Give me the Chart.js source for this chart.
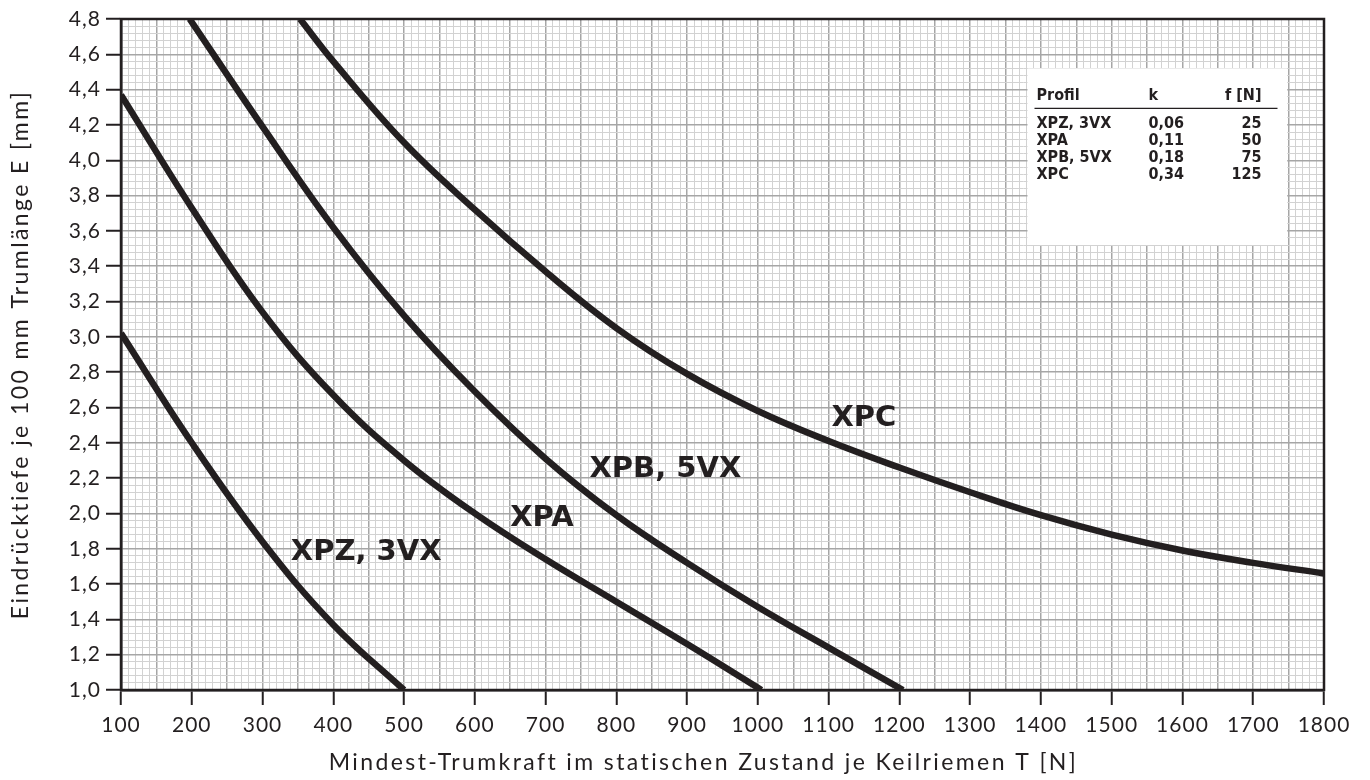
<!DOCTYPE html>
<html>
<head>
<meta charset="utf-8">
<script src="https://cdn.jsdelivr.net/npm/chart.js@4.4.1/dist/chart.umd.min.js"></script>
<style>
  html, body { margin: 0; padding: 0; background: #fff; }
  #wrap { width: 1370px; height: 780px; }
</style>
</head>
<body>
<div id="wrap"><canvas id="myChart"></canvas></div>
<script>
// Mindest-Trumkraft T [N] -> Eindrücktiefe E [mm]
const xpzT = [100, 200, 300, 400, 500];
const xpzE = [3.02, 2.40, 1.84, 1.37, 1.00];

const xpaT = [100, 200, 300, 400, 500, 600, 700, 800, 900, 1005];
const xpaE = [4.37, 3.73, 3.14, 2.67, 2.30, 2.00, 1.74, 1.50, 1.26, 1.00];

const xpbT = [197, 300, 400, 500, 600, 700, 800, 900, 1000, 1100, 1205];
const xpbE = [4.80, 4.19, 3.62, 3.12, 2.69, 2.31, 1.99, 1.72, 1.47, 1.24, 1.00];

const xpcT = [353, 400, 500, 600, 700, 800, 900, 1000, 1100, 1200, 1300, 1400, 1500, 1600, 1700, 1800];
const xpcE = [4.80, 4.56, 4.10, 3.72, 3.37, 3.05, 2.79, 2.58, 2.41, 2.26, 2.12, 1.99, 1.88, 1.79, 1.72, 1.66];

// curve labels (anchor = left/middle of text, in data units)
const curveNames = ['XPZ, 3VX', 'XPA', 'XPB, 5VX', 'XPC'];
const labelT = [340, 650, 762, 1104];
const labelE = [1.78, 1.97, 2.25, 2.54];

// table in the upper right
const tableHead = ['Profil', 'k', 'f [N]'];
const profiles = ['XPZ, 3VX', 'XPA', 'XPB, 5VX', 'XPC'];
const kValues = ['0,06', '0,11', '0,18', '0,34'];
const fValues = ['25', '50', '75', '125'];
const boxT = [1381, 1748];
const boxE = [4.52, 3.52];

const xTitle = 'Mindest-Trumkraft im statischen Zustand je Keilriemen T [N]';
const yTitle = 'Eindrücktiefe je 100 mm Trumlänge E [mm]';

const ink = '#231f20';

function series(T, E) {
  return T.map((t, i) => ({x: t, y: E[i]}));
}

const curve = {
  borderColor: ink,
  borderWidth: 6.5,
  pointRadius: 0,
  fill: false,
  tension: 0.4,
  borderCapStyle: 'butt'
};

const paper = {
  id: 'paper',
  beforeDraw(chart) {
    // wide spacing like the original's geometric typeface
    chart.ctx.letterSpacing = '1px';
  },
  beforeDatasetsDraw(chart) {
    const {ctx, scales: {x, y}} = chart;
    const x1 = x.getPixelForValue(boxT[0]), x2 = x.getPixelForValue(boxT[1]);
    const y1 = y.getPixelForValue(boxE[0]), y2 = y.getPixelForValue(boxE[1]);
    ctx.save();
    ctx.letterSpacing = '0px';
    ctx.fillStyle = '#fff';
    ctx.fillRect(x1, y1, x2 - x1, y2 - y1);

    ctx.fillStyle = ink;
    ctx.font = 'bold 16px "DejaVu Sans Condensed"';
    ctx.textBaseline = 'middle';
    let colA = x1 + 9, colB = x1 + 121, colC = x1 + 234;
    ctx.textAlign = 'left';
    ctx.fillText(tableHead[0], colA, y1 + 27);
    ctx.fillText(tableHead[1], colB, y1 + 27);
    ctx.textAlign = 'right';
    ctx.fillText(tableHead[2], colC, y1 + 27);
    ctx.strokeStyle = ink;
    ctx.lineWidth = 1.2;
    ctx.beginPath();
    ctx.moveTo(x1 + 7, y1 + 40);
    ctx.lineTo(x1 + 250, y1 + 40);
    ctx.stroke();
    for (let i = 0; i < profiles.length; i++) {
      let ry = y1 + 55 + i * 17;
      ctx.textAlign = 'left';
      ctx.fillText(profiles[i], colA, ry);
      ctx.fillText(kValues[i], colB, ry);
      ctx.textAlign = 'right';
      ctx.fillText(fValues[i], colC, ry);
    }
    ctx.restore();
  },
  afterDatasetsDraw(chart) {
    const {ctx, chartArea: a, scales: {x, y}} = chart;
    ctx.save();
    ctx.letterSpacing = '0px';
    ctx.fillStyle = ink;
    ctx.font = 'bold 29px "DejaVu Sans"';
    ctx.textAlign = 'left';
    ctx.textBaseline = 'middle';
    for (let i = 0; i < curveNames.length; i++) {
      ctx.fillText(curveNames[i], x.getPixelForValue(labelT[i]), y.getPixelForValue(labelE[i]));
    }
    ctx.strokeStyle = ink;
    ctx.lineWidth = 2.5;
    ctx.strokeRect(a.left, a.top, a.right - a.left, a.bottom - a.top);
    ctx.restore();
  },
  afterDraw(chart) {
    const {ctx, chartArea: a} = chart;
    ctx.save();
    ctx.fillStyle = ink;
    ctx.font = '23px Lato';
    ctx.letterSpacing = '2.4px';
    ctx.textAlign = 'center';
    ctx.textBaseline = 'middle';
    ctx.fillText(xTitle, (a.left + a.right) / 2 - 19, 763);
    ctx.translate(21, (a.top + a.bottom) / 2);
    ctx.rotate(-Math.PI / 2);
    ctx.fillText(yTitle, 0, 0);
    ctx.restore();
  }
};

function isMajorX(v) { return Math.round(v) % 50 === 0; }
function isMajorY(v) { return Math.round(v * 100) % 20 === 0; }

new Chart(document.getElementById('myChart'), {
  type: 'line',
  data: {
    datasets: [
      Object.assign({label: 'XPZ, 3VX', data: series(xpzT, xpzE)}, curve),
      Object.assign({label: 'XPA', data: series(xpaT, xpaE)}, curve),
      Object.assign({label: 'XPB, 5VX', data: series(xpbT, xpbE)}, curve),
      Object.assign({label: 'XPC', data: series(xpcT, xpcE)}, curve)
    ]
  },
  options: {
    responsive: true,
    maintainAspectRatio: false,
    animation: false,
    layout: { padding: { top: 19, right: 46, left: 0, bottom: 0 } },
    plugins: { legend: { display: false }, tooltip: { enabled: false } },
    scales: {
      x: {
        type: 'linear',
        min: 100,
        max: 1800,
        afterFit(s) { s.height = 90; },
        ticks: {
          stepSize: 10,
          autoSkip: false,
          maxRotation: 0,
          padding: 8,
          color: ink,
          font: { family: 'Lato', size: 21 },
          callback: v => (Math.round(v) % 100 === 0 ? String(Math.round(v)) : '')
        },
        grid: {
          color: c => isMajorX(c.tick.value) ? '#a6a6a6' : '#d2d2d2',
          lineWidth: c => isMajorX(c.tick.value) ? 1.5 : 1,
          tickLength: 15,
          tickWidth: 2,
          tickColor: c => (Math.round(c.tick.value) % 100 === 0 ? ink : 'rgba(0,0,0,0)')
        },
        border: { color: ink, width: 2.5 },
        title: { display: false }
      },
      y: {
        type: 'linear',
        min: 1,
        max: 4.8,
        afterFit(s) { s.width = 121; },
        ticks: {
          stepSize: 0.04,
          autoSkip: false,
          padding: 5,
          color: ink,
          font: { family: 'Lato', size: 21 },
          callback: v => isMajorY(v) ? (Math.round(v * 10) / 10).toFixed(1).replace('.', ',') : ''
        },
        grid: {
          color: c => isMajorY(c.tick.value) ? '#a6a6a6' : '#d2d2d2',
          lineWidth: c => isMajorY(c.tick.value) ? 1.5 : 1,
          tickLength: 15,
          tickWidth: 2,
          tickColor: c => isMajorY(c.tick.value) ? ink : 'rgba(0,0,0,0)'
        },
        border: { color: ink, width: 2.5 },
        title: { display: false }
      }
    }
  },
  plugins: [paper]
});
</script>
</body>
</html>
